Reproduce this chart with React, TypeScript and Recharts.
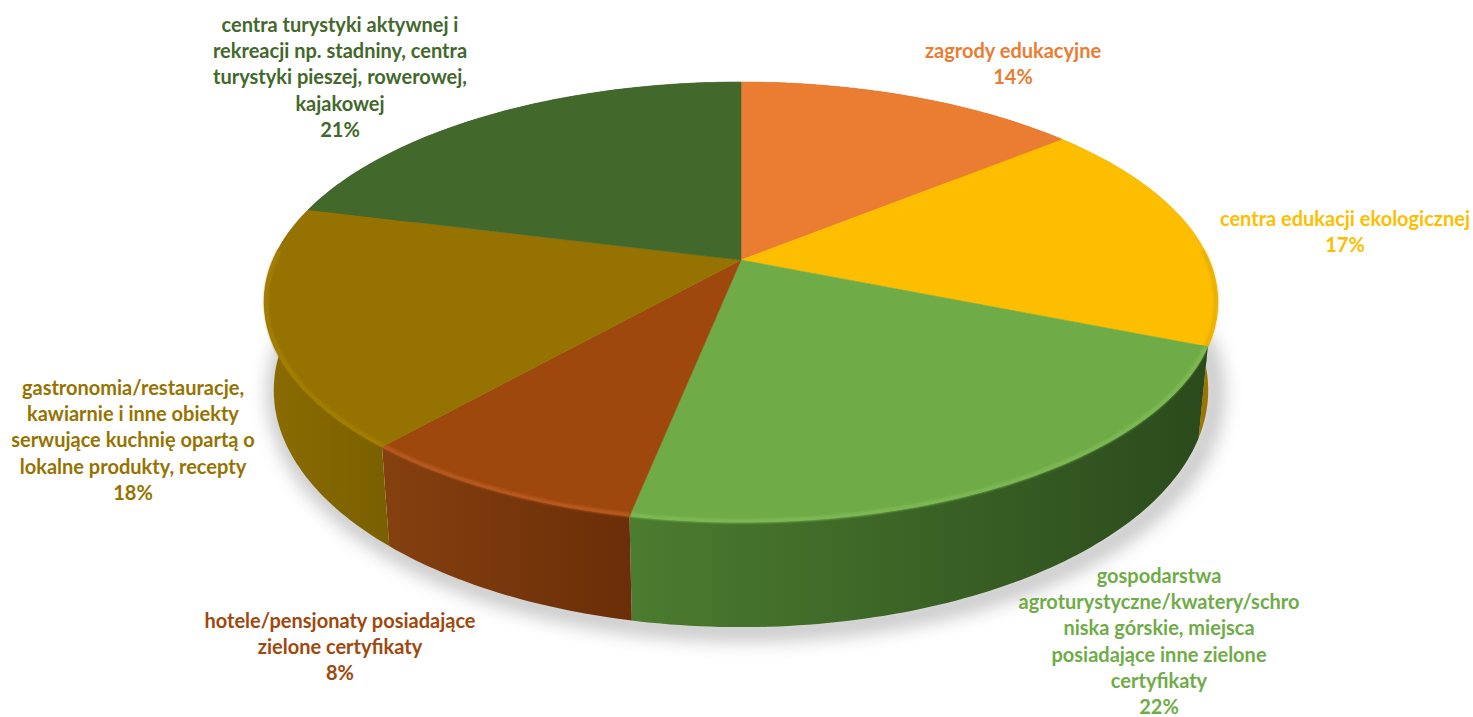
import { PieChart, Pie } from "recharts";

const CATEGORY_LINES = [
  ["zagrody edukacyjne"],
  ["centra edukacji ekologicznej"],
  ["gospodarstwa", "agroturystyczne/kwatery/schro", "niska górskie, miejsca", "posiadające inne zielone", "certyfikaty"],
  ["hotele/pensjonaty posiadające", "zielone certyfikaty"],
  ["gastronomia/restauracje,", "kawiarnie i inne obiekty", "serwujące kuchnię opartą o", "lokalne produkty, recepty"],
  ["centra turystyki aktywnej i", "rekreacji np. stadniny, centra", "turystyki pieszej, rowerowej,", "kajakowej"],
];
const SHARES = [14, 17.2, 21.9, 8.3, 17.6, 21];

const TOP_COLORS = ["#ea7d32", "#fdbe00", "#6fac47", "#9e480e", "#967300", "#43682b"];
const RIM_COLORS = ["#ea7d32", "#eab000", "#7cb955", "#b9591f", "#a37f00", "#43682b"];
const WALL_LEFT = ["#8f4c1e", "#b08400", "#4b7c2f", "#85400f", "#8a6c00", "#2f4a1e"];
const WALL_RIGHT = ["#8f4c1e", "#9a7400", "#2b4a1c", "#6b2e08", "#7b6000", "#2f4a1e"];

// centre x and middle of first line for each label
const LABEL_X = [1013, 1345, 1159, 340, 133, 340];
const LABEL_Y = [50, 218, 575, 620, 387, 24];
const LINE_HEIGHT = 26.2;

const chartData = SHARES.map((value, i) => ({ name: CATEGORY_LINES[i].join(" "), value, fill: TOP_COLORS[i] }));

// tilted disc: perspective squash of the pie circle
const PERSPECTIVE = 0.191;
const SQUASH = 0.453;
const DEPTH = 85;
const BOTTOM_SCALE = 0.98;

function project(cx: number, cy: number, r: number, deg: number, bottom = false) {
  const rad = (deg * Math.PI) / 180;
  const u = Math.cos(rad);
  const v = Math.sin(rad);
  const w = 1 + PERSPECTIVE * v;
  const k = bottom ? BOTTOM_SCALE : 1;
  return {
    x: cx + (k * r * u) / w,
    y: cy - (r * SQUASH * v) / w + (bottom ? DEPTH / w : 0),
    v,
  };
}

function arcPoints(cx: number, cy: number, r: number, from: number, to: number, bottom = false) {
  const n = Math.max(2, Math.ceil(Math.abs(to - from)));
  const pts = [];
  for (let i = 0; i <= n; i++) pts.push(project(cx, cy, r, from + ((to - from) * i) / n, bottom));
  return pts;
}

const toPath = (pts: { x: number; y: number }[]) =>
  pts.map((p, i) => `${i === 0 ? "M" : "L"}${p.x.toFixed(1)} ${p.y.toFixed(1)}`).join(" ");

function wallPath(p: any) {
  const top = arcPoints(p.cx, p.cy, p.outerRadius, p.startAngle, p.endAngle);
  const bot = arcPoints(p.cx, p.cy, p.outerRadius, p.endAngle, p.startAngle, true);
  return toPath(top.concat(bot)) + " Z";
}

// soft shadow under the front of the disc, one blurred stroke per slice
function ShadowShape(props: any) {
  const { cx, cy, outerRadius, startAngle, endAngle } = props;
  const bot = arcPoints(cx, cy, outerRadius, startAngle, endAngle, true).filter((p) => p.v < 0.05);
  if (bot.length < 2) return <g />;
  return (
    <path
      d={toPath(bot)}
      fill="none"
      stroke="#000"
      strokeOpacity={0.22}
      strokeWidth={22}
      transform="translate(5 3)"
      style={{ filter: "blur(9px)" }}
    />
  );
}

function WallShape(props: any) {
  const i = props.index;
  const id = `wall${i}`;
  const pts = arcPoints(props.cx, props.cy, props.outerRadius, props.startAngle, props.endAngle);
  const xs = pts.map((p) => p.x);
  return (
    <g>
      <defs>
        <linearGradient id={id} gradientUnits="userSpaceOnUse" x1={Math.min(...xs)} x2={Math.max(...xs)} y1={0} y2={0}>
          <stop offset="0" stopColor={WALL_LEFT[i]} />
          <stop offset="1" stopColor={WALL_RIGHT[i]} />
        </linearGradient>
      </defs>
      <path d={wallPath(props)} fill={`url(#${id})`} stroke="none" />
    </g>
  );
}

function TopShape(props: any) {
  const { cx, cy, outerRadius, startAngle, endAngle, fill, index } = props;
  const pts = arcPoints(cx, cy, outerRadius, startAngle, endAngle);
  const d = `M${cx} ${cy} ` + toPath(pts).replace(/^M/, "L") + " Z";
  const front = arcPoints(cx, cy, outerRadius - 2, startAngle, endAngle).filter((p) => p.v < 0.05);
  return (
    <g>
      <path d={d} fill={fill} stroke={fill} strokeWidth={0.6} />
      {front.length > 1 && (
        <path d={toPath(front)} fill="none" stroke={RIM_COLORS[index]} strokeWidth={4} style={{ filter: "blur(1.2px)" }} />
      )}
    </g>
  );
}

function SliceLabel(props: any) {
  const i = props.index;
  const lines = [...CATEGORY_LINES[i], `${Math.round(props.percent * 100)}%`];
  return (
    <text
      textAnchor="middle"
      fill={TOP_COLORS[i]}
      fontFamily="Lato, sans-serif"
      fontWeight={700}
      fontSize={20}
    >
      {lines.map((line, n) => (
        <tspan key={n} x={LABEL_X[i]} y={LABEL_Y[i] + n * LINE_HEIGHT} dominantBaseline="central">
          {line}
        </tspan>
      ))}
    </text>
  );
}

export default function App() {
  const pieProps = {
    data: chartData,
    dataKey: "value",
    nameKey: "name",
    cx: 741,
    cy: 260,
    innerRadius: 0,
    outerRadius: 468,
    startAngle: 90,
    endAngle: -270,
    stroke: "none",
    isAnimationActive: false,
  };
  return (
    <div style={{ position: "absolute", left: 0, top: 0, width: 1473, height: 717, background: "#fff", overflow: "hidden" }}>
      <PieChart width={1473} height={717} margin={{ top: 0, right: 0, bottom: 0, left: 0 }}>
        <Pie {...pieProps} shape={ShadowShape} />
        <Pie {...pieProps} shape={WallShape} />
        <Pie {...pieProps} shape={TopShape} label={SliceLabel} labelLine={false} />
      </PieChart>
    </div>
  );
}
